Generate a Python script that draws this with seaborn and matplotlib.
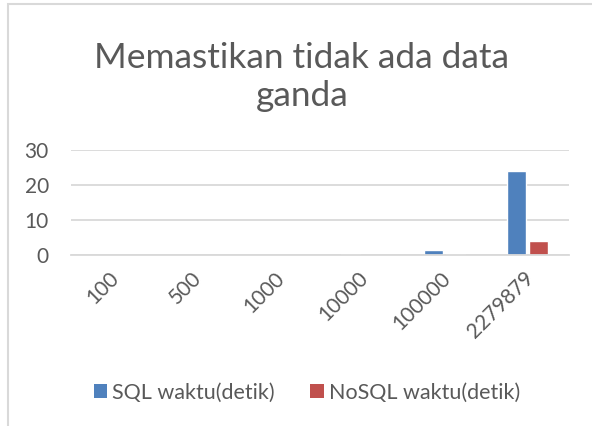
import matplotlib
matplotlib.use("Agg")
import matplotlib.pyplot as plt
import seaborn as sns
import pandas as pd
from matplotlib.patches import Rectangle, Patch
import matplotlib.transforms as mtransforms

categories = ["100", "500", "1000", "10000", "100000", "2279879"]
sql_values = [0.01, 0.02, 0.05, 0.25, 1.4, 24.1]
nosql_values = [0.01, 0.01, 0.02, 0.05, 0.3, 4.0]
series_names = ["SQL waktu(detik)", "NoSQL waktu(detik)"]
yticks = [0, 10, 20, 30]
title = "Memastikan tidak ada data\nganda"

df = pd.DataFrame({
    "cat": categories * 2,
    "val": sql_values + nosql_values,
    "series": [series_names[0]] * len(categories) + [series_names[1]] * len(categories),
})

sns.set_theme(style="white")
plt.rcParams["font.family"] = ["Lato", "DejaVu Sans"]
text_color = "#595959"
grid_color = "#d9d9d9"
colors = ["#4f81bd", "#c0504d"]

W, H = 592, 426
fig = plt.figure(figsize=(W / 100, H / 100), dpi=100)
fig.patch.set_facecolor("white")

# chart border (only left/top visible in reference)
fig.patches.append(Rectangle((8 / W, -0.1), 1.2, (H - 4) / H + 0.1, transform=fig.transFigure,
                             fill=False, edgecolor=grid_color, linewidth=1.5))

x0, x1 = 71, 569
ytop, ybot = 150, 255
ax = fig.add_axes([x0 / W, (H - ybot) / H, (x1 - x0) / W, (ybot - ytop) / H])
sns.barplot(data=df, x="cat", y="val", hue="series", palette=colors, ax=ax,
            width=0.52, gap=0.12, legend=False, saturation=1)
ax.set_ylim(0, 30)
ax.set_xlim(-0.5, len(categories) - 0.5)
ax.set_yticks(yticks)
ax.set_yticklabels([str(t) for t in yticks], fontsize=15, color=text_color)
ax.yaxis.grid(True, color=grid_color, linewidth=1.3)
ax.set_axisbelow(True)
for s in ["top", "right", "left"]:
    ax.spines[s].set_visible(False)
ax.spines["bottom"].set_color(grid_color)
ax.spines["bottom"].set_linewidth(1.3)
ax.tick_params(axis="y", length=0, pad=16)
ax.tick_params(axis="x", length=0, pad=0)
ax.set_xlabel("")
ax.set_ylabel("")
ax.set_xticks(range(len(categories)))
ax.set_xticklabels(categories, rotation=45, ha="right", va="top", rotation_mode="anchor",
                   fontsize=15, color=text_color)
offset = mtransforms.ScaledTranslation(-4 / 100, -13 / 100, fig.dpi_scale_trans)
for lbl in ax.get_xticklabels():
    lbl.set_transform(lbl.get_transform() + offset)

fig.text(302 / W, (H - 77) / H, title, ha="center", va="center",
         fontsize=25.4, color=text_color, linespacing=1.22)

handles = [Patch(facecolor=c, edgecolor="none") for c in colors]
leg = fig.legend(handles, series_names, loc="center", bbox_to_anchor=(307 / W, (H - 393) / H),
                 ncol=2, frameon=False, fontsize=15.5, handlelength=0.62, handleheight=0.62,
                 handletextpad=0.25, columnspacing=1.65)
for t in leg.get_texts():
    t.set_color(text_color)

fig.savefig("out.png", dpi=100, facecolor="white")
